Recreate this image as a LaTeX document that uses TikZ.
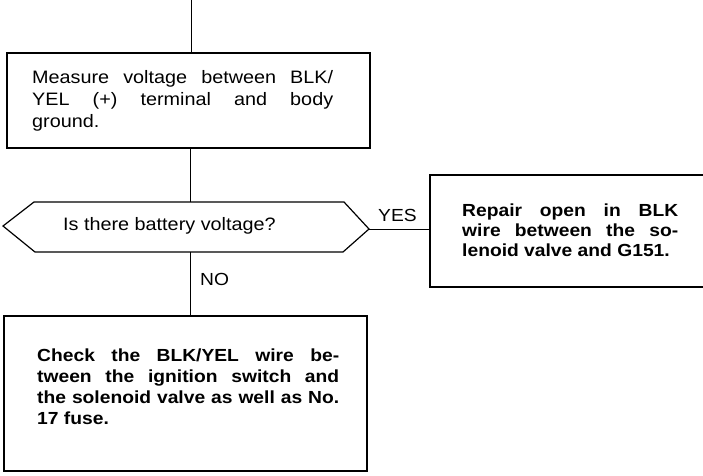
\documentclass[tikz,border=0pt]{standalone}
\usepackage{fontspec}
\setmainfont{Liberation Sans}[FakeStretch=1.1]
\begin{document}
\begin{tikzpicture}[x=1pt,y=-1pt,
  boxshape/.style={draw, line width=1.2pt, rectangle, inner sep=0pt},
  conn/.style={line width=1pt},
  txt/.style={inner sep=0pt, align=justify, anchor=north west, font=\fontsize{18}{22}\selectfont},
  btxt/.style={txt, font=\fontsize{17.5}{20.5}\selectfont\bfseries},
  lbl/.style={inner sep=0pt, anchor=base west, font=\fontsize{17.5}{20}\selectfont}]
\useasboundingbox (0,0) rectangle (703,475);
\clip (0,0) rectangle (703,475);
% boxes
\node[boxshape, minimum width=363pt, minimum height=95pt] (b1) at (188.5,100.5) {};
\node[boxshape, minimum width=290pt, minimum height=112pt] (b2) at (575,231) {};
\node[boxshape, minimum width=363pt, minimum height=155pt] (b3) at (185.5,393.5) {};
% decision hexagon
\coordinate (hL) at (3,226);
\coordinate (hTL) at (34,202);
\coordinate (hT) at (190,202);
\coordinate (hTR) at (344,202);
\coordinate (hR) at (369,229);
\coordinate (hBR) at (343,252);
\coordinate (hB) at (190,252);
\coordinate (hBL) at (35,252);
\draw[line width=1.2pt, line join=miter] (hL) -- (hTL) -- (hTR) -- (hR) -- (hBR) -- (hBL) -- cycle;
% texts
\node[txt, text width=301pt] (t1) at (32,70)
  {Measure voltage between BLK/\linebreak YEL (+) terminal and body\linebreak ground.};
\node[lbl, font=\fontsize{18}{20}\selectfont] (q) at (63,230) {Is there battery voltage?};
\node[btxt, text width=216pt, font=\fontsize{17.5}{20}\selectfont\bfseries] (t2) at (462,204)
  {Repair open in BLK\linebreak wire between the so-\linebreak lenoid valve and G151.};
\node[btxt, text width=302pt, font=\fontsize{17.5}{21}\selectfont\bfseries] (t3) at (37,349)
  {Check the BLK/YEL wire be-\linebreak tween the ignition switch and\linebreak the solenoid valve as well as No.\linebreak 17 fuse.};
\node[lbl] (yes) at (378,221.7) {YES};
\node[lbl] (no) at (200,285) {NO};
% connectors
\coordinate (top) at (191,0);
\draw[conn] (top) -- (top |- b1.north);
\draw[conn] (b1.south -| hT) -- (hT);
\draw[conn] (hR) -- (hR -| b2.west);
\draw[conn] (hB) -- (hB |- b3.north);
\end{tikzpicture}
\end{document}
